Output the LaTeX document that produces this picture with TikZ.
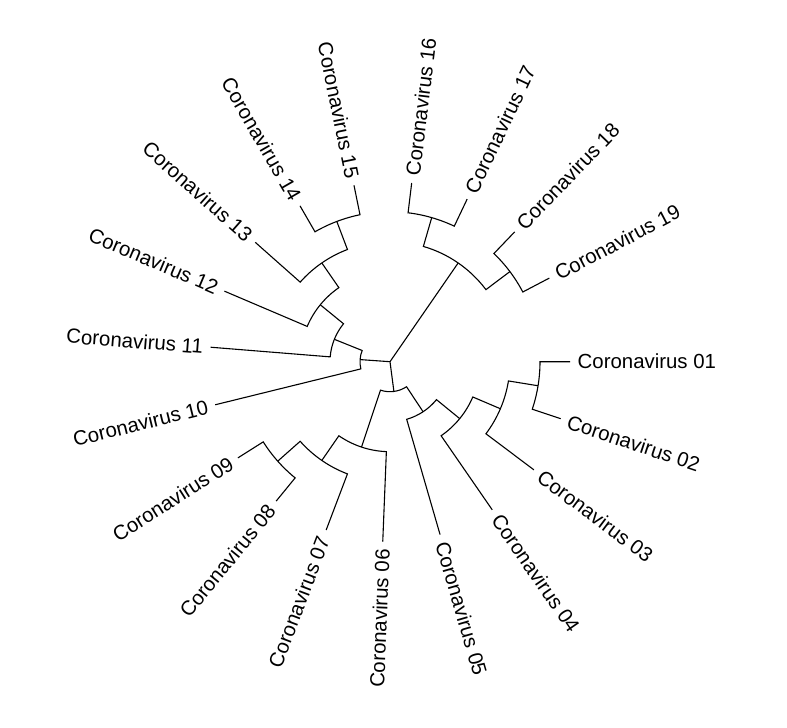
\documentclass[tikz,border=0pt]{standalone}
\usepackage{fontspec}
\setmainfont{Liberation Sans}
\newcommand\tipgap{18.4615}
% #1 radius of the parent, #2/#3 first child and its angle, #4/#5 second child and its angle
\newcommand\clade[5]{%
    \draw[branch] (#2) -- (#3:#1) arc[start angle=#3, end angle=#5, radius=#1] -- (#4);%
}
\begin{document}
\begin{tikzpicture}[
    x=30bp, y=30bp,
    branch/.style={draw=black, line width=1.1bp},
    tiplabel/.style={font=\fontsize{20.4bp}{24bp}\selectfont, inner sep=0pt}
]
    \useasboundingbox (-390bp,-366.3bp) rectangle (397bp,361.7bp);
    \coordinate (root) at (0,0);

    % Tips and labels
    \foreach \i in {1,...,19}{
        \pgfmathsetmacro\ang{-(\i-1)*\tipgap}
        \pgfmathsetmacro\side{cos(\ang)}
        \coordinate (tip\i) at (\ang:6);
        \ifdim\side pt<0pt
            \node[tiplabel, anchor=east, rotate=\ang+180] (lab\i) at (\ang:6.25) {Coronavirus \ifnum\i<10 0\fi\i};
        \else
            \node[tiplabel, anchor=west, rotate=\ang] (lab\i) at (\ang:6.25) {Coronavirus \ifnum\i<10 0\fi\i};
        \fi
    }

    % Clade 01-09
    \coordinate (n0102) at (-9.23:5);
    \coordinate (n0103) at (-23.08:4);
    \coordinate (n0104) at (-39.23:3);
    \coordinate (n0105) at (-56.54:2);
    \coordinate (n0809) at (-138.46:5);
    \coordinate (n0709) at (-124.62:4);
    \coordinate (n0609) at (-108.46:3);
    \coordinate (n0109) at (-82.5:1);
    \clade{5}{tip1}{0}{tip2}{-18.46}
    \clade{4}{n0102}{-9.23}{tip3}{-36.92}
    \clade{3}{n0103}{-23.08}{tip4}{-55.38}
    \clade{2}{n0104}{-39.23}{tip5}{-73.85}
    \clade{5}{tip8}{-129.23}{tip9}{-147.69}
    \clade{4}{tip7}{-110.77}{n0809}{-138.46}
    \clade{3}{tip6}{-92.31}{n0709}{-124.62}
    \clade{1}{n0105}{-56.54}{n0609}{-108.46}

    % Clade 10-15
    \coordinate (n1415) at (-249.23:5);
    \coordinate (n1315) at (-235.38:4);
    \coordinate (n1215) at (-219.23:3);
    \coordinate (n1115) at (-201.92:2);
    \coordinate (n1015) at (-184.04:1);
    \clade{5}{tip14}{-240}{tip15}{-258.46}
    \clade{4}{tip13}{-221.54}{n1415}{-249.23}
    \clade{3}{tip12}{-203.08}{n1315}{-235.38}
    \clade{2}{tip11}{-184.62}{n1215}{-219.23}
    \clade{1}{tip10}{-166.15}{n1115}{-201.92}

    % Clade 16-19
    \coordinate (n1617) at (-286.15:5);
    \coordinate (n1819) at (-323.08:5);
    \coordinate (n1619) at (-304.62:4);
    \clade{5}{tip16}{-276.92}{tip17}{-295.38}
    \clade{5}{tip18}{-313.85}{tip19}{-332.31}
    \clade{4}{n1617}{-286.15}{n1819}{-323.08}

    % Root
    \draw[branch] (root) -- (n0109);
    \draw[branch] (root) -- (n1015);
    \draw[branch] (root) -- (n1619);
\end{tikzpicture}
\end{document}
